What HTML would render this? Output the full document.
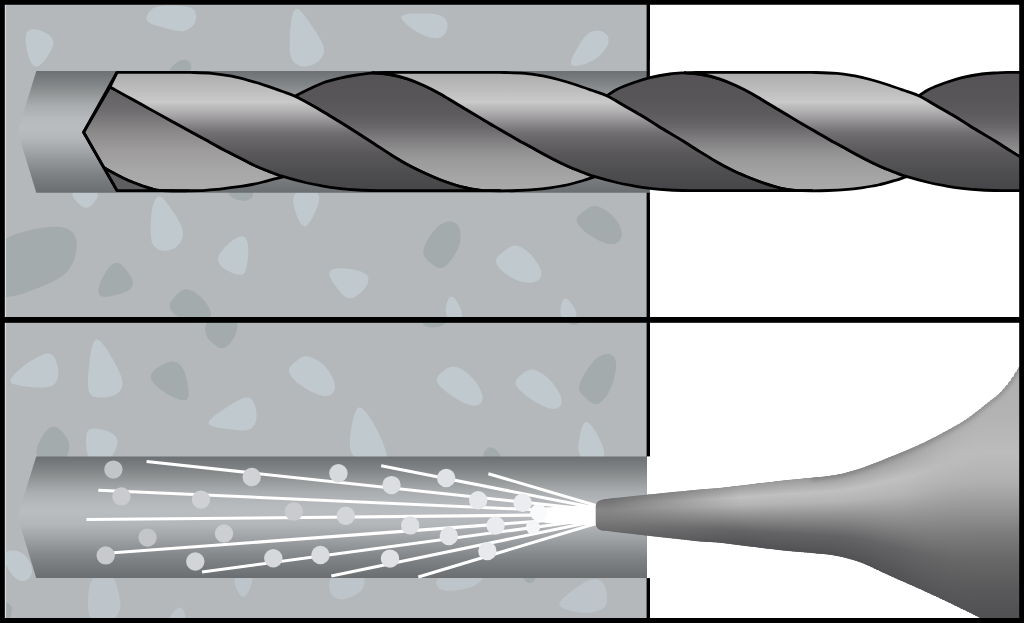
<!DOCTYPE html>
<html><head><meta charset="utf-8"><title>Drill and blow out hole</title>
<style>
html,body{margin:0;padding:0;background:#fff;font-family:"Liberation Sans",sans-serif;}
svg{display:block;}
</style></head><body>
<svg width="1024" height="623" viewBox="0 0 1024 623">
<defs>
<linearGradient id="gHole1" gradientUnits="userSpaceOnUse" x1="0" y1="70.9" x2="0" y2="192.7">
<stop offset="0" stop-color="#6c7072"/><stop offset="0.1" stop-color="#7f8385"/><stop offset="0.195" stop-color="#959899"/><stop offset="0.29" stop-color="#aaadaf"/><stop offset="0.385" stop-color="#b6b9bb"/><stop offset="0.46" stop-color="#babdbf"/><stop offset="0.555" stop-color="#b4b7b9"/><stop offset="0.67" stop-color="#a0a3a5"/><stop offset="0.76" stop-color="#8e9294"/><stop offset="0.86" stop-color="#7c8082"/><stop offset="1" stop-color="#6a6e70"/>
</linearGradient>
<linearGradient id="gHole2" gradientUnits="userSpaceOnUse" x1="0" y1="456.5" x2="0" y2="578.1">
<stop offset="0" stop-color="#6c7072"/><stop offset="0.1" stop-color="#7f8385"/><stop offset="0.195" stop-color="#959899"/><stop offset="0.29" stop-color="#aaadaf"/><stop offset="0.385" stop-color="#b6b9bb"/><stop offset="0.46" stop-color="#babdbf"/><stop offset="0.555" stop-color="#b4b7b9"/><stop offset="0.67" stop-color="#a0a3a5"/><stop offset="0.76" stop-color="#8e9294"/><stop offset="0.86" stop-color="#7c8082"/><stop offset="1" stop-color="#6a6e70"/>
</linearGradient>
<linearGradient id="gL" gradientUnits="userSpaceOnUse" x1="0" y1="72.3" x2="0" y2="190.6">
<stop offset="0" stop-color="#acacac"/><stop offset="0.25" stop-color="#c9c9c9"/><stop offset="0.336" stop-color="#b0aeb0"/><stop offset="0.477" stop-color="#7c7a7c"/><stop offset="0.52" stop-color="#6f6d6f"/><stop offset="0.615" stop-color="#626062"/><stop offset="0.7" stop-color="#585658"/><stop offset="0.84" stop-color="#4e4e50"/><stop offset="1" stop-color="#464648"/>
</linearGradient>
<linearGradient id="gT" gradientUnits="userSpaceOnUse" x1="0" y1="72.3" x2="0" y2="190.6">
<stop offset="0.124" stop-color="#605e60"/><stop offset="0.32" stop-color="#6e6c6e"/><stop offset="0.505" stop-color="#8b8989"/><stop offset="0.657" stop-color="#9d9b9b"/><stop offset="0.826" stop-color="#a7a7a7"/><stop offset="0.95" stop-color="#ababab"/>
</linearGradient>
<linearGradient id="gD" gradientUnits="userSpaceOnUse" x1="0" y1="72.3" x2="0" y2="190.6">
<stop offset="0.02" stop-color="#555355"/><stop offset="0.25" stop-color="#585658"/><stop offset="0.37" stop-color="#5e5c5e"/><stop offset="0.46" stop-color="#696769"/><stop offset="0.56" stop-color="#7d7b7d"/><stop offset="0.657" stop-color="#8f8f8f"/><stop offset="0.75" stop-color="#9b9b9b"/><stop offset="0.885" stop-color="#a5a5a5"/><stop offset="0.98" stop-color="#a9a9a9"/>
</linearGradient>
<linearGradient id="nzTip" x1="0" y1="0" x2="0" y2="1">
<stop offset="0" stop-color="#6e6e70"/><stop offset="0.35" stop-color="#868686"/><stop offset="0.6" stop-color="#7e7e7e"/><stop offset="1" stop-color="#68686a"/>
</linearGradient>
<linearGradient id="nzBody" x1="0" y1="0" x2="0" y2="1">
<stop offset="0" stop-color="#999999"/><stop offset="0.2" stop-color="#c0c0c0"/><stop offset="0.33" stop-color="#b4b4b4"/><stop offset="0.5" stop-color="#929292"/><stop offset="0.75" stop-color="#646466"/><stop offset="1" stop-color="#515153"/>
</linearGradient>
<linearGradient id="nzFlare" gradientUnits="userSpaceOnUse" x1="0" y1="380" x2="0" y2="640">
<stop offset="0" stop-color="#b0b0b0"/><stop offset="0.142" stop-color="#b3b3b3"/><stop offset="0.281" stop-color="#bcbcbc"/><stop offset="0.388" stop-color="#b1b1b1"/><stop offset="0.485" stop-color="#999999"/><stop offset="0.592" stop-color="#7c7c7c"/><stop offset="0.688" stop-color="#686868"/><stop offset="0.796" stop-color="#5a5a5c"/><stop offset="0.892" stop-color="#525254"/><stop offset="1" stop-color="#4e4e50"/>
</linearGradient>
<filter id="blurE" x="-10%" y="-10%" width="120%" height="120%"><feGaussianBlur stdDeviation="2.2"/></filter>
<filter id="blur10" x="-20%" y="-50%" width="140%" height="200%"><feGaussianBlur stdDeviation="9"/></filter>
<filter id="blur8" x="-20%" y="-50%" width="140%" height="200%"><feGaussianBlur stdDeviation="7"/></filter>
<clipPath id="concTop"><rect x="0" y="0" width="648" height="320"/></clipPath>
<clipPath id="concBot"><rect x="0" y="320" width="648" height="303"/></clipPath>
</defs>
<rect x="0" y="0" width="1024" height="623" fill="#fff"/>
<rect x="0" y="0" width="648" height="623" fill="#b5b8bb"/>
<g clip-path="url(#concTop)">
<path d="M28.8,30.4 C31.6,28.5 37.0,29.2 42.1,31.2 C47.3,33.1 52.3,36.3 53.2,41.0 C54.1,45.6 50.9,51.7 47.3,56.8 C43.7,62.0 39.8,66.3 36.6,66.5 C33.4,66.6 30.9,62.7 29.1,57.9 C27.3,53.1 26.3,47.4 25.9,42.2 C25.5,37.0 25.9,32.4 28.8,30.4Z" fill="#c0c9ce"/>
<path d="M147.3,20.9 C145.5,18.4 146.9,15.0 148.9,12.3 C150.9,9.6 153.4,7.6 157.8,6.5 C162.3,5.4 168.7,5.3 175.1,5.5 C181.5,5.7 188.0,6.2 191.5,8.0 C195.1,9.8 195.8,12.8 196.0,15.8 C196.2,18.7 195.8,21.6 194.2,24.1 C192.6,26.6 189.7,28.7 186.9,29.9 C184.0,31.2 181.2,31.6 176.5,30.8 C171.9,30.1 165.5,28.3 159.8,26.6 C154.1,25.0 149.1,23.3 147.3,20.9Z" fill="#c0c9ce"/>
<path d="M297.1,9.1 C299.8,9.6 303.5,14.1 307.5,19.5 C311.4,25.0 315.7,31.4 318.9,36.7 C322.1,42.1 324.3,46.4 324.1,50.6 C323.9,54.9 321.4,59.2 317.3,62.2 C313.2,65.1 307.5,66.8 302.9,66.4 C298.2,66.0 294.7,63.7 292.5,60.2 C290.4,56.7 289.7,52.1 289.7,44.4 C289.7,36.7 290.4,26.0 291.6,19.0 C292.8,11.9 294.5,8.6 297.1,9.1Z" fill="#c0c9ce"/>
<path d="M401.5,16.3 C402.9,14.0 410.1,13.6 417.4,13.5 C424.7,13.4 432.1,13.4 437.1,14.5 C442.1,15.6 444.7,17.6 446.1,20.1 C447.6,22.6 448.0,25.4 447.2,28.7 C446.4,31.9 444.4,35.6 440.7,37.2 C437.1,38.8 431.7,38.4 426.1,36.3 C420.5,34.3 414.6,30.8 409.5,26.8 C404.4,22.9 400.0,18.6 401.5,16.3Z" fill="#c0c9ce"/>
<path d="M570.8,63.6 C570.4,60.5 573.7,54.3 577.1,48.4 C580.6,42.6 584.0,37.1 587.6,34.1 C591.2,31.1 594.8,30.4 598.2,30.7 C601.7,30.9 604.9,32.1 606.7,34.4 C608.6,36.6 609.0,40.1 608.1,43.4 C607.2,46.8 605.0,50.1 602.3,53.0 C599.6,55.9 596.5,58.5 592.6,60.6 C588.7,62.8 583.9,64.5 579.6,65.4 C575.2,66.4 571.1,66.6 570.8,63.6Z" fill="#c0c9ce"/>
<path d="M74.2,191.7 C78.2,189.4 89.6,189.4 94.6,191.2 C99.6,193.0 98.1,196.5 95.8,200.1 C93.5,203.7 90.3,207.2 87.1,207.8 C83.9,208.3 80.7,205.8 77.3,202.2 C73.9,198.7 70.3,194.0 74.2,191.7Z" fill="#c0c9ce"/>
<path d="M157.8,196.8 C160.4,195.4 163.2,198.4 166.8,202.9 C170.3,207.4 174.6,213.4 177.8,218.9 C180.9,224.3 183.0,229.0 183.0,233.6 C183.0,238.3 180.9,242.8 177.5,246.0 C174.1,249.1 169.2,250.9 164.9,250.9 C160.6,250.9 156.9,249.1 154.6,246.8 C152.3,244.5 151.4,241.8 151.0,235.5 C150.6,229.2 150.6,219.4 151.7,211.7 C152.9,203.9 155.2,198.2 157.8,196.8Z" fill="#c0c9ce"/>
<path d="M240.6,236.3 C244.0,235.6 245.9,237.7 247.0,240.8 C248.1,243.8 248.5,247.7 248.3,252.5 C248.1,257.4 247.4,263.1 246.6,267.2 C245.7,271.3 244.8,273.9 242.3,274.6 C239.8,275.3 235.7,274.2 232.0,272.8 C228.3,271.3 224.9,269.6 222.1,267.0 C219.4,264.5 217.3,261.0 218.3,257.0 C219.3,253.1 223.4,248.6 227.8,244.6 C232.3,240.6 237.2,237.0 240.6,236.3Z" fill="#c0c9ce"/>
<path d="M295.9,192.9 C300.5,188.7 312.0,188.7 316.6,192.2 C321.3,195.8 319.0,202.9 316.1,209.8 C313.3,216.7 309.8,223.3 306.9,225.4 C304.1,227.5 301.8,225.2 300.1,222.6 C298.4,220.1 297.1,217.2 295.4,211.5 C293.6,205.8 291.3,197.2 295.9,192.9Z" fill="#c0c9ce"/>
<path d="M329.8,271.7 C331.4,268.7 338.0,267.8 345.5,268.4 C352.9,269.0 361.2,271.0 365.2,273.5 C369.1,276.0 368.6,279.0 368.0,281.5 C367.5,284.1 366.7,286.2 364.1,289.3 C361.4,292.4 356.8,296.5 352.8,297.8 C348.9,299.0 345.7,297.4 342.8,294.9 C340.0,292.3 337.5,288.7 334.5,284.3 C331.6,280.0 328.1,274.7 329.8,271.7Z" fill="#c0c9ce"/>
<path d="M496.1,261.9 C495.4,258.1 498.6,255.7 502.1,252.8 C505.5,250.0 509.2,246.6 513.0,245.7 C516.7,244.8 520.5,246.4 523.9,248.7 C527.4,251.0 530.5,254.0 533.5,257.8 C536.5,261.5 539.4,266.0 540.7,269.8 C542.0,273.7 541.7,276.9 539.1,279.2 C536.5,281.6 531.6,283.1 525.7,282.5 C519.8,281.8 513.0,278.9 507.2,274.9 C501.4,270.8 496.8,265.7 496.1,261.9Z" fill="#c0c9ce"/>
<path d="M448.7,318.1 C445.3,315.5 445.4,310.1 446.3,305.6 C447.1,301.1 448.7,297.3 450.9,296.8 C453.0,296.3 455.7,298.9 458.3,303.4 C460.8,308.0 463.3,314.4 461.1,317.6 C459.0,320.8 452.1,320.8 448.7,318.1Z" fill="#c0c9ce"/>
<path d="M563.1,318.1 C559.8,315.4 560.2,310.1 561.1,305.8 C562.0,301.6 563.4,298.4 565.5,298.4 C567.7,298.4 570.5,301.6 573.1,305.8 C575.7,310.1 577.9,315.4 575.6,318.1 C573.3,320.8 566.4,320.8 563.1,318.1Z" fill="#c0c9ce"/>
<path d="M172.0,72.9 C168.6,71.3 170.5,68.1 173.2,65.4 C175.9,62.7 179.3,60.6 182.3,59.9 C185.3,59.2 188.0,59.9 189.7,62.6 C191.4,65.2 192.3,69.9 188.3,72.2 C184.3,74.5 175.5,74.5 172.0,72.9Z" fill="#a3abad"/>
<path d="M5.6,239.0 C11.0,235.6 20.3,232.4 29.9,230.1 C39.5,227.8 49.5,226.3 57.0,226.7 C64.5,227.1 69.5,229.2 72.7,232.6 C75.8,236.0 77.2,240.6 76.7,247.3 C76.2,254.0 73.9,262.7 69.3,269.1 C64.7,275.5 57.8,279.6 46.6,284.6 C35.4,289.5 19.9,295.2 11.0,296.6 C2.1,298.0 -0.2,295.2 -1.4,286.6 C-2.6,278.1 -2.6,263.8 -1.8,254.9 C-1.1,246.0 0.3,242.4 5.6,239.0Z" fill="#a3abad"/>
<path d="M115.8,262.8 C119.2,262.3 122.4,265.2 125.6,268.9 C128.7,272.6 131.8,277.2 132.7,280.9 C133.6,284.7 132.3,287.6 129.5,289.8 C126.7,292.0 122.4,293.4 117.1,294.8 C111.7,296.2 105.3,297.6 101.8,296.5 C98.3,295.4 97.7,291.9 98.7,287.3 C99.8,282.7 102.6,277.0 105.7,272.2 C108.9,267.3 112.4,263.3 115.8,262.8Z" fill="#a3abad"/>
<path d="M169.7,307.0 C169.0,302.9 172.0,299.8 174.9,296.7 C177.8,293.7 180.5,290.7 183.4,289.7 C186.2,288.6 189.2,289.4 192.0,290.7 C194.9,292.0 197.7,293.9 200.4,296.4 C203.1,298.9 205.6,302.0 208.2,306.2 C210.7,310.5 213.2,315.8 208.4,318.5 C203.6,321.2 191.4,321.2 183.2,318.7 C174.9,316.2 170.5,311.1 169.7,307.0Z" fill="#a3abad"/>
<path d="M230.8,191.0 C234.8,189.6 245.2,189.6 249.9,191.0 C254.6,192.5 253.7,195.3 251.8,197.4 C249.9,199.4 247.0,200.7 243.5,200.7 C239.9,200.7 235.6,199.4 232.3,197.4 C229.0,195.3 226.8,192.5 230.8,191.0Z" fill="#a3abad"/>
<path d="M449.0,221.5 C451.9,221.3 454.4,222.0 456.4,223.8 C458.4,225.6 459.9,228.4 460.4,232.0 C461.0,235.6 460.5,239.8 459.7,243.5 C458.8,247.2 457.5,250.3 454.5,255.0 C451.6,259.8 447.0,266.1 442.9,267.7 C438.7,269.4 435.0,266.4 431.5,263.5 C428.0,260.6 424.8,257.9 423.7,254.7 C422.7,251.5 423.7,247.8 425.5,244.1 C427.2,240.3 429.6,236.5 432.1,233.1 C434.6,229.7 437.2,226.8 440.1,224.7 C443.0,222.7 446.2,221.7 449.0,221.5Z" fill="#a3abad"/>
<path d="M576.7,221.1 C576.1,217.4 579.4,214.8 582.9,212.0 C586.4,209.2 589.9,206.4 593.9,206.0 C597.8,205.7 602.1,207.8 606.1,210.6 C610.1,213.3 613.8,216.7 616.6,220.5 C619.3,224.2 621.0,228.3 621.6,231.8 C622.2,235.3 621.8,238.1 619.8,240.4 C617.8,242.6 614.2,244.3 610.3,244.1 C606.3,243.9 602.1,241.9 598.0,239.9 C594.0,237.9 590.3,235.9 586.1,232.6 C581.9,229.3 577.3,224.7 576.7,221.1Z" fill="#a3abad"/>
</g>
<g clip-path="url(#concBot)">
<path d="M11.8,377.5 C14.3,373.8 20.8,368.0 27.7,363.1 C34.6,358.2 41.8,354.2 46.7,353.7 C51.5,353.1 53.9,356.1 55.6,359.8 C57.3,363.6 58.4,368.1 58.4,372.7 C58.3,377.3 57.2,381.9 54.0,384.4 C50.8,387.0 45.5,387.4 40.3,387.4 C35.1,387.4 30.1,387.0 25.4,386.4 C20.8,385.9 16.6,385.3 13.7,384.1 C10.9,383.0 9.3,381.3 11.8,377.5Z" fill="#c0c9ce"/>
<path d="M95.3,340.0 C97.6,338.4 100.9,341.2 104.4,346.0 C108.0,350.8 111.9,357.6 115.2,363.8 C118.5,370.0 121.2,375.7 122.1,380.1 C123.0,384.6 122.1,387.9 120.3,390.5 C118.6,393.1 116.0,395.0 111.3,396.2 C106.6,397.5 99.7,398.1 95.5,397.1 C91.2,396.1 89.6,393.6 88.7,390.5 C87.9,387.3 87.7,383.4 88.1,377.2 C88.4,371.0 89.3,362.3 90.4,355.0 C91.6,347.6 93.0,341.6 95.3,340.0Z" fill="#c0c9ce"/>
<path d="M210.3,419.7 C213.2,416.3 220.3,411.3 227.5,406.7 C234.7,402.1 241.8,397.9 246.5,397.5 C251.1,397.2 253.2,400.6 254.7,404.7 C256.1,408.7 256.9,413.3 256.4,417.8 C256.0,422.3 254.3,426.6 250.6,428.7 C247.0,430.8 241.6,430.5 236.4,430.1 C231.2,429.6 226.4,429.0 222.1,428.3 C217.8,427.7 214.1,427.2 211.5,426.0 C208.9,424.8 207.5,423.1 210.3,419.7Z" fill="#c0c9ce"/>
<path d="M289.1,371.7 C288.3,367.8 291.6,364.9 294.7,362.2 C297.8,359.6 300.8,357.1 304.0,356.4 C307.3,355.6 310.6,356.7 314.3,358.5 C318.0,360.3 321.9,362.8 325.5,366.9 C329.2,371.0 332.6,376.7 334.0,381.3 C335.4,386.0 334.9,389.5 333.4,392.0 C331.9,394.5 329.4,396.0 326.3,396.1 C323.3,396.3 319.7,395.2 315.1,393.3 C310.5,391.3 304.8,388.5 299.6,384.5 C294.4,380.6 289.8,375.6 289.1,371.7Z" fill="#c0c9ce"/>
<path d="M358.4,407.7 C360.4,406.6 362.6,408.5 364.9,411.1 C367.2,413.7 369.6,416.9 372.2,421.3 C374.9,425.8 377.9,431.5 380.5,437.3 C383.1,443.1 385.2,448.9 386.3,453.0 C387.3,457.1 387.3,459.5 381.0,460.6 C374.7,461.8 362.1,461.8 355.8,457.8 C349.5,453.7 349.5,445.6 350.1,438.1 C350.7,430.7 351.9,423.8 353.3,418.3 C354.8,412.8 356.4,408.8 358.4,407.7Z" fill="#c0c9ce"/>
<path d="M436.9,381.2 C435.9,377.2 439.3,374.1 442.8,371.4 C446.2,368.7 449.7,366.5 453.5,366.5 C457.2,366.5 461.2,368.7 464.9,371.4 C468.7,374.1 472.1,377.2 475.2,381.2 C478.2,385.1 480.8,389.8 482.0,393.6 C483.1,397.4 482.7,400.2 481.4,402.3 C480.1,404.4 477.8,405.7 474.6,405.7 C471.4,405.7 467.2,404.4 462.8,402.3 C458.4,400.2 453.8,397.4 448.7,393.6 C443.6,389.8 438.0,385.1 436.9,381.2Z" fill="#c0c9ce"/>
<path d="M515.9,384.7 C514.5,380.8 517.6,377.9 520.7,375.2 C523.9,372.5 527.1,370.0 530.7,369.6 C534.3,369.2 538.2,371.1 541.9,373.5 C545.6,375.9 549.2,378.9 552.6,383.0 C556.0,387.1 559.2,392.3 560.7,396.3 C562.1,400.3 561.7,403.2 560.7,405.2 C559.6,407.2 558.0,408.3 555.5,408.7 C553.0,409.0 549.6,408.6 545.1,406.8 C540.6,405.0 534.9,401.8 529.1,397.7 C523.3,393.6 517.4,388.6 515.9,384.7Z" fill="#c0c9ce"/>
<path d="M582.5,457.9 C577.6,454.4 578.2,447.5 578.9,441.8 C579.7,436.1 580.6,431.6 581.7,428.0 C582.9,424.5 584.3,421.8 586.5,422.0 C588.6,422.2 591.5,425.3 594.1,429.3 C596.8,433.4 599.3,438.3 601.6,443.8 C603.9,449.3 606.0,455.3 601.9,458.4 C597.7,461.4 587.4,461.4 582.5,457.9Z" fill="#c0c9ce"/>
<path d="M87.8,431.0 C89.8,428.2 93.7,428.1 97.8,428.7 C101.8,429.3 105.9,430.5 109.0,431.7 C112.0,433.0 113.9,434.2 115.3,436.0 C116.8,437.7 117.7,439.8 117.5,442.5 C117.3,445.2 116.1,448.4 114.6,451.6 C113.2,454.8 111.6,458.0 107.1,459.6 C102.6,461.2 95.1,461.2 91.1,458.5 C87.0,455.9 86.5,450.5 86.2,445.0 C85.9,439.5 85.9,433.9 87.8,431.0Z" fill="#c0c9ce"/>
<path d="M6.3,552.1 C7.9,550.5 10.8,550.3 13.7,550.5 C16.6,550.7 19.4,551.4 21.9,553.1 C24.4,554.7 26.6,557.2 28.4,560.0 C30.2,562.9 31.8,566.2 32.0,569.4 C32.3,572.6 31.2,575.8 29.4,577.9 C27.5,580.0 24.9,581.1 22.2,580.9 C19.4,580.7 16.6,579.3 14.2,577.1 C11.9,575.0 10.0,572.1 8.4,569.1 C6.8,566.1 5.4,562.9 4.9,559.8 C4.4,556.7 4.7,553.7 6.3,552.1Z" fill="#c0c9ce"/>
<path d="M94.2,577.2 C98.6,573.1 106.0,573.1 110.4,575.8 C114.9,578.5 116.4,583.8 117.8,589.7 C119.3,595.5 120.6,601.7 120.4,606.2 C120.2,610.7 118.5,613.3 116.5,615.9 C114.5,618.4 112.3,620.9 108.0,622.2 C103.7,623.4 97.4,623.4 93.7,621.3 C90.1,619.1 89.0,614.9 88.4,610.6 C87.8,606.3 87.7,602.0 88.2,595.8 C88.7,589.5 89.9,581.3 94.2,577.2Z" fill="#bdc5ca"/>
<path d="M171.3,620.7 C168.8,618.9 170.7,615.4 173.0,612.5 C175.3,609.7 178.0,607.5 179.9,607.5 C181.9,607.5 183.1,609.7 184.3,612.5 C185.5,615.4 186.5,618.9 183.6,620.7 C180.7,622.5 173.8,622.5 171.3,620.7Z" fill="#bdc5ca"/>
<path d="M236.1,576.9 C239.3,574.3 247.3,574.3 250.5,576.6 C253.7,578.9 252.1,583.5 250.1,587.9 C248.1,592.3 245.7,596.4 243.4,596.7 C241.0,597.1 238.8,593.7 236.8,589.3 C234.8,585.0 233.0,579.6 236.1,576.9Z" fill="#bdc5ca"/>
<path d="M334.6,576.0 C340.6,573.1 352.7,573.1 358.8,574.8 C364.9,576.6 365.1,580.2 364.4,583.6 C363.8,587.0 362.4,590.2 358.6,593.0 C354.8,595.9 348.6,598.4 343.9,599.1 C339.3,599.8 336.2,598.7 334.0,597.1 C331.7,595.4 330.3,593.1 329.5,589.0 C328.8,584.9 328.6,579.0 334.6,576.0Z" fill="#bdc5ca"/>
<path d="M444.0,575.8 C452.9,573.3 471.4,573.3 478.5,575.3 C485.6,577.3 481.5,581.2 476.9,583.9 C472.3,586.7 467.3,588.3 462.0,589.4 C456.6,590.4 450.9,591.0 446.6,590.7 C442.2,590.4 439.3,589.4 437.5,586.3 C435.7,583.3 435.1,578.3 444.0,575.8Z" fill="#bdc5ca"/>
<path d="M559.5,603.4 C560.0,601.0 563.4,598.0 566.8,595.1 C570.2,592.2 573.8,589.5 577.4,587.0 C580.9,584.5 584.5,582.2 588.0,580.8 C591.4,579.4 594.8,578.8 597.4,579.3 C600.1,579.9 602.1,581.5 603.6,583.8 C605.0,586.1 605.9,589.1 606.4,592.3 C607.0,595.5 607.2,599.0 606.7,601.9 C606.3,604.9 605.2,607.4 601.4,609.4 C597.5,611.4 590.9,612.9 584.1,612.8 C577.4,612.7 570.4,611.0 565.8,609.3 C561.2,607.5 559.0,605.8 559.5,603.4Z" fill="#bdc5ca"/>
<path d="M150.8,375.5 C151.5,372.0 155.8,368.4 160.6,365.7 C165.4,363.0 170.6,361.2 174.5,361.7 C178.4,362.3 181.1,365.1 183.1,369.0 C185.1,372.9 186.5,377.7 187.4,382.3 C188.3,386.9 188.7,391.4 188.6,394.6 C188.4,397.7 187.8,399.6 185.9,400.1 C183.9,400.6 180.6,399.9 177.3,398.7 C173.9,397.5 170.6,396.0 167.0,393.9 C163.4,391.7 159.7,389.0 156.3,385.8 C153.0,382.7 150.1,379.1 150.8,375.5Z" fill="#a3abad"/>
<path d="M209.7,320.3 C215.5,316.9 227.6,316.9 233.2,319.4 C238.8,321.9 237.9,326.9 236.7,330.9 C235.6,334.9 234.1,338.0 231.7,341.2 C229.3,344.5 225.9,347.9 222.6,348.3 C219.4,348.8 216.4,346.2 213.6,343.9 C210.7,341.6 207.9,339.6 206.3,335.1 C204.6,330.6 204.0,323.8 209.7,320.3Z" fill="#a3abad"/>
<path d="M38.9,457.5 C34.5,454.0 36.7,446.8 39.9,440.5 C43.1,434.1 47.2,428.5 50.9,426.9 C54.7,425.3 58.0,427.7 61.2,430.8 C64.3,434.0 67.3,437.9 68.6,441.7 C69.8,445.4 69.3,449.0 68.5,452.2 C67.6,455.4 66.4,458.3 60.3,459.7 C54.2,461.1 43.2,461.1 38.9,457.5Z" fill="#a3abad"/>
<path d="M579.0,388.3 C578.8,384.4 581.4,379.1 584.3,374.2 C587.1,369.3 590.4,364.8 593.4,361.6 C596.4,358.4 599.3,356.4 601.9,355.3 C604.4,354.1 606.8,353.8 608.9,354.1 C611.0,354.5 613.0,355.6 614.3,357.6 C615.6,359.6 616.3,362.6 616.1,366.5 C616.0,370.5 614.9,375.3 613.6,379.9 C612.3,384.5 610.7,388.8 608.9,392.2 C607.1,395.6 605.2,398.0 602.9,400.3 C600.6,402.6 597.9,404.8 594.9,404.2 C591.8,403.7 588.4,400.5 585.3,397.6 C582.1,394.8 579.2,392.2 579.0,388.3Z" fill="#a3abad"/>
<path d="M485.2,458.9 C481.9,457.2 483.2,454.0 484.6,451.6 C486.1,449.2 487.6,447.5 489.7,447.3 C491.8,447.1 494.6,448.4 497.2,450.9 C499.8,453.3 502.3,456.9 499.4,458.7 C496.6,460.5 488.6,460.5 485.2,458.9Z" fill="#a3abad"/>
<path d="M424.9,319.1 C429.4,317.6 439.7,317.6 443.8,319.1 C447.9,320.5 445.8,323.3 442.8,325.1 C439.7,326.9 435.8,327.6 432.4,327.6 C429.0,327.6 426.2,326.9 424.0,325.1 C421.9,323.3 420.5,320.5 424.9,319.1Z" fill="#a3abad"/>
<path d="M568.1,319.0 C570.1,317.8 575.8,317.8 578.1,319.0 C580.5,320.3 579.4,322.7 577.4,324.0 C575.5,325.2 572.6,325.2 570.3,324.0 C568.0,322.7 566.2,320.3 568.1,319.0Z" fill="#a3abad"/>
<path d="M2.7,603.7 C3.8,600.4 5.9,601.7 7.8,603.1 C9.6,604.5 11.3,606.1 11.8,608.0 C12.3,609.9 11.8,612.0 11.2,614.5 C10.5,617.0 9.8,619.9 8.2,621.3 C6.6,622.7 4.1,622.7 2.9,618.8 C1.6,614.9 1.6,607.0 2.7,603.7Z" fill="#a3abad"/>
<path d="M524.1,574.9 C526.5,573.7 532.5,573.7 534.8,574.9 C537.2,576.2 535.7,578.7 534.3,580.4 C532.9,582.1 531.5,582.9 529.8,582.9 C528.2,582.9 526.5,582.1 524.9,580.4 C523.3,578.7 521.8,576.2 524.1,574.9Z" fill="#a3abad"/>
</g>
<rect x="646.6" y="0" width="3.4" height="623" fill="#000"/>
<path d="M36.3,70.9 L650,70.9 L650,192.7 L36.3,192.7 L17.6,131.5 Z" fill="url(#gHole1)"/>
<path d="M36.2,456.5 L650,456.5 L650,578.1 L36.2,578.1 L17.5,516.5 Z" fill="url(#gHole2)"/>
<rect x="646.6" y="71" width="3.4" height="7" fill="#000"/>
<rect x="649.9" y="60" width="400" height="140" fill="#fff"/>
<rect x="647" y="456.5" width="400" height="121.6" fill="#fff"/>
<path d="M110.0,87.0 L83.6,132.3 L103.8,167.5 C105.1,168.3 108.8,170.6 112.0,172.3 C115.2,174.1 119.3,176.2 123.0,178.0 C126.7,179.8 130.4,181.4 134.0,182.8 C137.6,184.2 141.5,185.7 144.5,186.7 C147.5,187.7 149.5,188.3 152.0,188.9 C154.5,189.5 155.8,190.0 159.6,190.3 C163.4,190.6 170.2,190.7 175.0,190.8 C179.8,190.9 183.5,190.9 188.5,190.8 C193.5,190.7 200.3,190.6 205.2,190.3 C210.1,190.1 213.8,189.7 218.0,189.3 C222.2,188.9 226.7,188.2 230.5,187.7 C234.3,187.2 237.4,186.8 241.0,186.3 C244.6,185.8 248.3,185.2 252.0,184.5 C255.7,183.8 259.4,182.9 263.0,182.0 C266.6,181.1 270.1,180.0 273.5,179.1 C276.9,178.2 281.8,177.1 283.5,176.7 C281.6,176.0 276.5,174.3 271.8,172.5 C267.1,170.7 260.5,168.2 255.2,165.8 C249.9,163.4 245.3,160.6 240.0,157.9 C234.7,155.2 228.9,152.4 223.3,149.5 C217.8,146.6 212.2,143.4 206.7,140.3 C201.1,137.2 196.1,134.6 190.0,131.2 C183.9,127.8 176.7,123.8 170.0,120.2 C163.3,116.5 156.7,112.8 150.0,109.1 C143.3,105.4 136.7,101.7 130.0,98.0 C123.3,94.4 113.3,88.8 110.0,87.0Z" fill="url(#gT)" stroke="#000" stroke-width="2.8" stroke-linejoin="round"/>
<path d="M103.8,167.5 L117.0,190.6 L188.5,190.6 C186.2,190.8 179.8,190.9 175.0,190.8 C170.2,190.7 163.4,190.6 159.6,190.3 C155.8,190.0 154.5,189.5 152.0,188.9 C149.5,188.3 147.5,187.7 144.5,186.7 C141.5,185.7 137.6,184.2 134.0,182.8 C130.4,181.4 126.7,179.8 123.0,178.0 C119.3,176.2 115.2,174.1 112.0,172.3 C108.8,170.6 105.1,168.3 103.8,167.5Z" fill="#5e5e60" stroke="#000" stroke-width="2.8" stroke-linejoin="round"/>
<path d="M295.0,96.2 C296.9,95.2 302.0,92.5 306.7,90.3 C311.4,88.1 317.8,84.8 323.3,82.8 C328.9,80.8 334.4,79.5 340.0,78.2 C345.6,76.9 351.2,75.9 356.7,75.0 C362.2,74.1 370.3,73.2 373.0,72.8 C375.7,72.4 370.2,72.5 373.0,72.8 C375.8,73.1 384.4,73.5 390.0,74.5 C395.6,75.5 401.1,76.9 406.7,78.7 C412.2,80.5 417.8,82.8 423.3,85.3 C428.9,87.8 434.4,90.6 440.0,93.7 C445.6,96.8 451.1,100.4 456.7,103.7 C462.2,107.0 467.8,110.4 473.3,113.7 C478.9,117.0 485.6,121.1 490.0,123.7 C494.4,126.3 495.6,126.9 500.0,129.5 C504.4,132.1 511.2,136.1 516.7,139.2 C522.2,142.3 527.8,145.2 533.3,148.3 C538.8,151.4 544.4,154.6 550.0,157.5 C555.6,160.4 561.2,163.3 566.7,165.8 C572.2,168.3 578.6,170.7 583.3,172.5 C588.0,174.3 593.0,176.0 595.0,176.7 C593.0,177.3 588.0,179.1 583.3,180.5 C578.6,181.9 572.2,183.8 566.7,185.0 C561.2,186.2 555.6,187.0 550.0,187.8 C544.4,188.6 538.8,189.2 533.3,189.7 C527.8,190.1 522.2,190.3 516.7,190.5 C511.2,190.7 505.8,190.8 500.0,190.8 C494.2,190.8 486.7,190.6 481.7,190.6 C476.7,190.6 471.9,190.6 470.0,190.6 L500.0,190.6 C496.9,190.6 487.2,190.7 481.7,190.3 C476.1,189.9 470.9,188.8 466.7,188.0 C462.5,187.2 461.1,186.9 456.7,185.5 C452.2,184.1 445.6,181.9 440.0,179.7 C434.4,177.5 428.9,175.1 423.3,172.5 C417.8,169.9 412.2,167.2 406.7,164.2 C401.1,161.1 395.6,157.7 390.0,154.2 C384.4,150.7 380.2,147.8 373.3,143.3 C366.4,138.8 355.2,131.6 348.3,127.2 C341.4,122.8 337.2,120.4 331.7,117.0 C326.1,113.6 321.1,110.5 315.0,107.0 C308.9,103.5 298.3,98.0 295.0,96.2Z" fill="url(#gD)" stroke="#000" stroke-width="2.8" stroke-linejoin="round"/>
<path d="M606.7,95.8 C608.4,94.8 612.3,91.7 616.7,89.5 C621.1,87.3 627.8,84.8 633.3,82.8 C638.8,80.8 643.9,79.1 650.0,77.6 C656.1,76.1 663.9,74.8 669.7,74.0 C675.5,73.2 682.5,73.0 685.0,72.8 C687.5,72.6 682.2,72.5 685.0,72.8 C687.8,73.1 696.4,73.5 702.0,74.5 C707.6,75.5 713.2,76.9 718.7,78.7 C724.2,80.5 729.8,82.8 735.3,85.3 C740.8,87.8 746.4,90.6 752.0,93.7 C757.6,96.8 763.2,100.4 768.7,103.7 C774.2,107.0 779.8,110.4 785.3,113.7 C790.8,117.0 797.5,121.1 802.0,123.7 C806.5,126.3 807.5,126.9 812.0,129.5 C816.5,132.1 823.2,136.1 828.7,139.2 C834.2,142.3 839.8,145.2 845.3,148.3 C850.8,151.4 856.4,154.6 862.0,157.5 C867.6,160.4 873.2,163.3 878.7,165.8 C884.2,168.3 890.6,170.7 895.3,172.5 C900.0,174.3 905.0,176.0 907.0,176.7 C904.5,177.3 899.5,179.1 894.8,180.5 C890.1,181.9 883.8,183.8 878.2,185.0 C872.7,186.2 867.1,187.0 861.5,187.8 C855.9,188.6 850.3,189.2 844.8,189.7 C839.2,190.1 833.8,190.3 828.2,190.5 C822.7,190.7 817.3,190.8 811.5,190.8 C805.7,190.8 798.2,190.6 793.2,190.6 C788.2,190.6 783.5,190.6 781.5,190.6 L812.0,190.6 C809.2,190.6 800.3,190.7 795.0,190.3 C789.7,189.9 784.7,189.0 780.0,188.0 C775.3,187.0 771.7,185.9 766.7,184.2 C761.7,182.5 755.6,180.2 750.0,178.0 C744.4,175.8 738.8,173.5 733.3,170.8 C727.8,168.1 722.2,165.2 716.7,162.0 C711.2,158.8 705.6,155.3 700.0,151.9 C694.4,148.5 690.2,145.6 683.3,141.3 C676.3,137.0 665.2,130.5 658.3,126.2 C651.4,122.0 647.2,119.1 641.7,115.8 C636.2,112.5 630.8,109.5 625.0,106.2 C619.2,102.9 609.8,97.5 606.7,95.8Z" fill="url(#gD)" stroke="#000" stroke-width="2.8" stroke-linejoin="round"/>
<path d="M918.7,95.8 C920.4,94.8 924.3,91.7 928.7,89.5 C933.1,87.3 939.8,84.8 945.3,82.8 C950.8,80.8 955.9,79.1 962.0,77.6 C968.1,76.1 975.9,74.8 981.7,74.0 C987.5,73.2 992.3,73.1 997.0,72.8 C1001.7,72.5 1004.5,72.5 1010.0,72.4 C1015.5,72.3 1026.7,72.3 1030.0,72.3 L1030.0,170.0 C1025.9,160.3 1017.6,155.3 1012.0,151.9 C1006.4,148.5 1002.2,145.6 995.3,141.3 C988.3,137.0 977.2,130.5 970.3,126.2 C963.4,122.0 959.2,119.1 953.7,115.8 C948.2,112.5 942.8,109.5 937.0,106.2 C931.2,102.9 921.8,97.5 918.7,95.8Z" fill="url(#gD)" stroke="#000" stroke-width="2.8" stroke-linejoin="round"/>
<path d="M117.0,72.3 L170.0,72.3 C173.3,72.3 183.1,72.2 190.0,72.4 C196.9,72.6 204.8,72.7 211.7,73.3 C218.6,73.9 225.6,75.0 231.7,76.2 C237.8,77.4 242.8,78.8 248.3,80.3 C253.9,81.8 259.4,83.5 265.0,85.3 C270.6,87.1 276.7,89.4 281.7,91.2 C286.7,93.0 289.4,93.6 295.0,96.2 C300.6,98.8 308.9,103.5 315.0,107.0 C321.1,110.5 326.1,113.6 331.7,117.0 C337.2,120.4 341.4,122.8 348.3,127.2 C355.2,131.6 366.4,138.8 373.3,143.3 C380.2,147.8 384.4,150.7 390.0,154.2 C395.6,157.7 401.1,161.1 406.7,164.2 C412.2,167.2 417.8,169.9 423.3,172.5 C428.9,175.1 434.4,177.5 440.0,179.7 C445.6,181.9 452.2,184.1 456.7,185.5 C461.1,186.9 462.5,187.2 466.7,188.0 C470.9,188.8 476.1,189.9 481.7,190.3 C487.2,190.7 496.9,190.6 500.0,190.6 L393.5,190.6 C391.0,190.6 384.4,190.7 378.5,190.6 C372.6,190.5 364.9,190.4 358.2,190.0 C351.5,189.6 344.6,189.0 338.5,188.3 C332.4,187.6 327.3,186.8 321.8,185.8 C316.2,184.8 311.6,184.0 305.2,182.5 C298.8,181.0 289.1,178.4 283.5,176.7 C277.9,175.0 276.5,174.3 271.8,172.5 C267.1,170.7 260.5,168.2 255.2,165.8 C249.9,163.4 245.3,160.6 240.0,157.9 C234.7,155.2 228.9,152.4 223.3,149.5 C217.8,146.6 212.2,143.4 206.7,140.3 C201.1,137.2 196.1,134.6 190.0,131.2 C183.9,127.8 176.7,123.8 170.0,120.2 C163.3,116.5 156.7,112.8 150.0,109.1 C143.3,105.4 136.7,101.7 130.0,98.0 C123.3,94.4 113.3,88.8 110.0,87.0Z" fill="url(#gL)" stroke="#000" stroke-width="2.8" stroke-linejoin="round"/>
<path d="M384.0,72.3 L480.0,72.3 C483.3,72.3 492.5,72.2 500.0,72.4 C507.5,72.6 518.0,72.8 525.0,73.3 C532.0,73.8 536.2,74.7 541.7,75.7 C547.2,76.7 552.8,78.0 558.3,79.5 C563.8,81.0 569.4,82.7 575.0,84.5 C580.6,86.3 586.4,88.4 591.7,90.3 C597.0,92.2 601.2,93.1 606.7,95.8 C612.2,98.5 619.2,102.9 625.0,106.2 C630.8,109.5 636.2,112.5 641.7,115.8 C647.2,119.1 651.4,122.0 658.3,126.2 C665.2,130.5 676.3,137.0 683.3,141.3 C690.2,145.6 694.4,148.5 700.0,151.9 C705.6,155.3 711.2,158.8 716.7,162.0 C722.2,165.2 727.8,168.1 733.3,170.8 C738.8,173.5 744.4,175.8 750.0,178.0 C755.6,180.2 761.7,182.5 766.7,184.2 C771.7,185.9 775.3,187.0 780.0,188.0 C784.7,189.0 789.7,189.9 795.0,190.3 C800.3,190.7 809.2,190.6 812.0,190.6 L705.0,190.6 C702.5,190.6 695.9,190.7 690.0,190.6 C684.1,190.5 676.4,190.4 669.7,190.0 C663.0,189.6 656.1,189.0 650.0,188.3 C643.9,187.6 638.8,186.8 633.3,185.8 C627.8,184.8 623.1,184.0 616.7,182.5 C610.3,181.0 600.6,178.4 595.0,176.7 C589.4,175.0 588.0,174.3 583.3,172.5 C578.6,170.7 572.2,168.3 566.7,165.8 C561.2,163.3 555.6,160.4 550.0,157.5 C544.4,154.6 538.8,151.4 533.3,148.3 C527.8,145.2 522.2,142.3 516.7,139.2 C511.2,136.1 504.4,132.1 500.0,129.5 C495.6,126.9 494.4,126.3 490.0,123.7 C485.6,121.1 478.9,117.0 473.3,113.7 C467.8,110.4 462.2,107.0 456.7,103.7 C451.1,100.4 445.6,96.8 440.0,93.7 C434.4,90.6 428.9,87.8 423.3,85.3 C417.8,82.8 412.2,80.5 406.7,78.7 C401.1,76.9 395.6,75.5 390.0,74.5 C384.4,73.5 375.8,73.1 373.0,72.8Z" fill="url(#gL)" stroke="#000" stroke-width="2.8" stroke-linejoin="round"/>
<path d="M696.0,72.3 L792.0,72.3 C795.3,72.3 804.5,72.2 812.0,72.4 C819.5,72.6 830.0,72.8 837.0,73.3 C844.0,73.8 848.2,74.7 853.7,75.7 C859.2,76.7 864.8,78.0 870.3,79.5 C875.8,81.0 881.4,82.7 887.0,84.5 C892.6,86.3 898.4,88.4 903.7,90.3 C909.0,92.2 913.2,93.1 918.7,95.8 C924.2,98.5 931.2,102.9 937.0,106.2 C942.8,109.5 948.2,112.5 953.7,115.8 C959.2,119.1 963.4,122.0 970.3,126.2 C977.2,130.5 988.3,137.0 995.3,141.3 C1002.2,145.6 1006.4,148.5 1012.0,151.9 C1017.6,155.3 1025.9,160.3 1028.7,162.0 L1045.0,190.6 L1017.0,190.6 C1014.5,190.6 1007.9,190.7 1002.0,190.6 C996.1,190.5 988.4,190.4 981.7,190.0 C975.0,189.6 968.1,189.0 962.0,188.3 C955.9,187.6 950.8,186.8 945.3,185.8 C939.8,184.8 935.1,184.0 928.7,182.5 C922.3,181.0 912.6,178.4 907.0,176.7 C901.4,175.0 900.0,174.3 895.3,172.5 C890.6,170.7 884.2,168.3 878.7,165.8 C873.2,163.3 867.6,160.4 862.0,157.5 C856.4,154.6 850.8,151.4 845.3,148.3 C839.8,145.2 834.2,142.3 828.7,139.2 C823.2,136.1 816.5,132.1 812.0,129.5 C807.5,126.9 806.5,126.3 802.0,123.7 C797.5,121.1 790.8,117.0 785.3,113.7 C779.8,110.4 774.2,107.0 768.7,103.7 C763.2,100.4 757.6,96.8 752.0,93.7 C746.4,90.6 740.8,87.8 735.3,85.3 C729.8,82.8 724.2,80.5 718.7,78.7 C713.2,76.9 707.6,75.5 702.0,74.5 C696.4,73.5 687.8,73.1 685.0,72.8Z" fill="url(#gL)" stroke="#000" stroke-width="2.8" stroke-linejoin="round"/>
<path d="M117.0,72.3 L83.6,132.3 L117.0,190.6" fill="none" stroke="#000" stroke-width="2.8" stroke-linejoin="round"/>
<line x1="146.6" y1="461.6" x2="596.0" y2="510.0" stroke="#fff" stroke-width="3.05"/>
<line x1="98.3" y1="490.3" x2="596.0" y2="512.5" stroke="#fff" stroke-width="3.05"/>
<line x1="86.4" y1="519.6" x2="596.0" y2="514.5" stroke="#fff" stroke-width="3.05"/>
<line x1="113.4" y1="552.8" x2="596.0" y2="517.0" stroke="#fff" stroke-width="3.05"/>
<line x1="202.0" y1="572.0" x2="596.0" y2="519.0" stroke="#fff" stroke-width="3.05"/>
<line x1="331.3" y1="576.0" x2="596.0" y2="521.0" stroke="#fff" stroke-width="3.05"/>
<line x1="418.3" y1="577.0" x2="596.0" y2="523.5" stroke="#fff" stroke-width="3.05"/>
<line x1="381.2" y1="465.8" x2="596.0" y2="508.0" stroke="#fff" stroke-width="3.05"/>
<line x1="488.4" y1="473.7" x2="596.0" y2="505.5" stroke="#fff" stroke-width="3.05"/>
<path d="M597,504.8 L545,507.5 L538,515 L545,523 L597,525.3Z" fill="#fff"/>
<circle cx="113.4" cy="469.6" r="9.2" fill="#c2c4c7"/>
<circle cx="121.5" cy="496.4" r="9.2" fill="#c9cbce"/>
<circle cx="105.7" cy="555.4" r="9.2" fill="#c7c9cc"/>
<circle cx="147.6" cy="537.6" r="9.2" fill="#c3c5c8"/>
<circle cx="201.0" cy="499.6" r="9.2" fill="#ced0d3"/>
<circle cx="195.3" cy="561.5" r="9.2" fill="#d2d4d7"/>
<circle cx="224.0" cy="533.5" r="9.2" fill="#ccced1"/>
<circle cx="251.7" cy="477.0" r="9.2" fill="#d0d2d5"/>
<circle cx="273.3" cy="558.3" r="9.2" fill="#d6d8db"/>
<circle cx="293.9" cy="511.5" r="9.2" fill="#c9cbce"/>
<circle cx="320.4" cy="555.0" r="9.2" fill="#d9dbde"/>
<circle cx="338.4" cy="473.2" r="9.2" fill="#d7d9dc"/>
<circle cx="345.8" cy="515.7" r="9.2" fill="#d3d5d8"/>
<circle cx="391.5" cy="485.1" r="9.2" fill="#dbdde0"/>
<circle cx="390.0" cy="558.6" r="9.2" fill="#dfe1e4"/>
<circle cx="410.2" cy="525.4" r="9.2" fill="#dddfe2"/>
<circle cx="446.2" cy="478.0" r="9.2" fill="#e0e2e6"/>
<circle cx="448.8" cy="536.0" r="9.2" fill="#e3e5e8"/>
<circle cx="478.2" cy="500.2" r="9.2" fill="#e5e7ea"/>
<circle cx="487.4" cy="551.1" r="9.2" fill="#e7e9ec"/>
<circle cx="495.6" cy="525.5" r="9.2" fill="#e9ebee"/>
<circle cx="522.6" cy="502.7" r="9.2" fill="#ebedf0"/>
<circle cx="538.5" cy="512.8" r="8.5" fill="#f8fafc"/>
<circle cx="533.0" cy="527.2" r="7.0" fill="#f4f6f8"/>
<circle cx="557.0" cy="516.0" r="8.5" fill="#ffffff"/>
<clipPath id="nozclip"><path d="M595.7,507.0 C595.7,502.5 598,500.2 604,499.3 C611.3,498.5 632.0,496.2 648.0,494.6 C664.0,493.0 688.0,490.6 700.0,489.5 C712.0,488.4 711.7,488.7 720.0,487.9 C728.3,487.1 739.3,485.7 750.0,484.5 C760.7,483.3 774.0,481.6 784.0,480.5 C794.0,479.4 801.2,478.9 810.0,478.0 C818.8,477.1 828.3,476.5 837.0,474.8 C845.7,473.1 853.2,470.9 862.0,468.0 C870.8,465.1 879.7,461.3 889.5,457.3 C899.3,453.3 910.9,448.7 921.0,444.0 C931.1,439.3 942.1,433.4 950.0,429.0 C957.9,424.6 962.5,421.9 968.3,417.9 C974.1,413.9 979.9,409.0 985.0,405.0 C990.1,401.0 994.8,397.8 999.0,393.8 C1003.2,389.8 1006.7,385.4 1010.0,381.0 C1013.3,376.6 1016.0,371.8 1018.7,367.5 C1021.4,363.2 1024.8,357.1 1026.0,355.0 L1030,355 L1030,645 L1026.0,641.0 C1021.7,638.8 1008.2,632.1 1000.0,628.0 C991.8,623.9 985.3,620.5 977.0,616.3 C968.7,612.1 959.3,607.5 950.0,603.0 C940.7,598.5 931.1,594.1 921.0,589.5 C910.9,584.9 899.3,580.0 889.5,575.6 C879.7,571.2 870.8,566.3 862.0,563.0 C853.2,559.7 845.7,557.6 837.0,555.9 C828.3,554.2 818.8,553.7 810.0,552.8 C801.2,551.9 794.0,551.5 784.0,550.5 C774.0,549.5 760.7,547.8 750.0,546.5 C739.3,545.2 728.3,543.6 720.0,542.8 C711.7,542.0 712.0,542.7 700.0,541.5 C688.0,540.3 664.0,537.6 648.0,535.8 C632.0,534.0 611.3,531.6 604.0,530.8 C598,530 595.7,527.5 595.7,523 Z"/></clipPath>
<g clip-path="url(#nozclip)"><rect x="594.0" y="498.8" width="3.6" height="32.5" fill="url(#nzTip)"/>
<rect x="597.0" y="498.8" width="3.6" height="32.5" fill="url(#nzTip)"/>
<rect x="600.0" y="498.8" width="3.6" height="32.5" fill="url(#nzTip)"/>
<rect x="603.0" y="498.7" width="3.6" height="32.6" fill="url(#nzTip)"/>
<rect x="606.0" y="498.4" width="3.6" height="33.3" fill="url(#nzTip)"/>
<rect x="609.0" y="498.1" width="3.6" height="33.9" fill="url(#nzTip)"/>
<rect x="609.0" y="498.1" width="3.6" height="33.9" fill="url(#nzBody)" opacity="0.004"/>
<rect x="612.0" y="497.8" width="3.6" height="34.6" fill="url(#nzTip)"/>
<rect x="612.0" y="497.8" width="3.6" height="34.6" fill="url(#nzBody)" opacity="0.027"/>
<rect x="615.0" y="497.4" width="3.6" height="35.3" fill="url(#nzTip)"/>
<rect x="615.0" y="497.4" width="3.6" height="35.3" fill="url(#nzBody)" opacity="0.050"/>
<rect x="618.0" y="497.1" width="3.6" height="36.0" fill="url(#nzTip)"/>
<rect x="618.0" y="497.1" width="3.6" height="36.0" fill="url(#nzBody)" opacity="0.073"/>
<rect x="621.0" y="496.8" width="3.6" height="36.6" fill="url(#nzTip)"/>
<rect x="621.0" y="496.8" width="3.6" height="36.6" fill="url(#nzBody)" opacity="0.096"/>
<rect x="624.0" y="496.5" width="3.6" height="37.3" fill="url(#nzTip)"/>
<rect x="624.0" y="496.5" width="3.6" height="37.3" fill="url(#nzBody)" opacity="0.119"/>
<rect x="627.0" y="496.2" width="3.6" height="37.9" fill="url(#nzTip)"/>
<rect x="627.0" y="496.2" width="3.6" height="37.9" fill="url(#nzBody)" opacity="0.142"/>
<rect x="630.0" y="495.8" width="3.6" height="38.6" fill="url(#nzTip)"/>
<rect x="630.0" y="495.8" width="3.6" height="38.6" fill="url(#nzBody)" opacity="0.165"/>
<rect x="633.0" y="495.5" width="3.6" height="39.3" fill="url(#nzTip)"/>
<rect x="633.0" y="495.5" width="3.6" height="39.3" fill="url(#nzBody)" opacity="0.188"/>
<rect x="636.0" y="495.2" width="3.6" height="39.9" fill="url(#nzTip)"/>
<rect x="636.0" y="495.2" width="3.6" height="39.9" fill="url(#nzBody)" opacity="0.212"/>
<rect x="639.0" y="494.9" width="3.6" height="40.6" fill="url(#nzTip)"/>
<rect x="639.0" y="494.9" width="3.6" height="40.6" fill="url(#nzBody)" opacity="0.235"/>
<rect x="642.0" y="494.6" width="3.6" height="41.2" fill="url(#nzTip)"/>
<rect x="642.0" y="494.6" width="3.6" height="41.2" fill="url(#nzBody)" opacity="0.258"/>
<rect x="645.0" y="494.3" width="3.6" height="41.9" fill="url(#nzTip)"/>
<rect x="645.0" y="494.3" width="3.6" height="41.9" fill="url(#nzBody)" opacity="0.281"/>
<rect x="648.0" y="493.9" width="3.6" height="42.5" fill="url(#nzTip)"/>
<rect x="648.0" y="493.9" width="3.6" height="42.5" fill="url(#nzBody)" opacity="0.304"/>
<rect x="651.0" y="493.6" width="3.6" height="43.2" fill="url(#nzTip)"/>
<rect x="651.0" y="493.6" width="3.6" height="43.2" fill="url(#nzBody)" opacity="0.327"/>
<rect x="654.0" y="493.3" width="3.6" height="43.8" fill="url(#nzTip)"/>
<rect x="654.0" y="493.3" width="3.6" height="43.8" fill="url(#nzBody)" opacity="0.350"/>
<rect x="657.0" y="493.0" width="3.6" height="44.4" fill="url(#nzTip)"/>
<rect x="657.0" y="493.0" width="3.6" height="44.4" fill="url(#nzBody)" opacity="0.373"/>
<rect x="660.0" y="492.7" width="3.6" height="45.1" fill="url(#nzTip)"/>
<rect x="660.0" y="492.7" width="3.6" height="45.1" fill="url(#nzBody)" opacity="0.396"/>
<rect x="663.0" y="492.4" width="3.6" height="45.7" fill="url(#nzTip)"/>
<rect x="663.0" y="492.4" width="3.6" height="45.7" fill="url(#nzBody)" opacity="0.419"/>
<rect x="666.0" y="492.1" width="3.6" height="46.3" fill="url(#nzTip)"/>
<rect x="666.0" y="492.1" width="3.6" height="46.3" fill="url(#nzBody)" opacity="0.442"/>
<rect x="669.0" y="491.8" width="3.6" height="47.0" fill="url(#nzTip)"/>
<rect x="669.0" y="491.8" width="3.6" height="47.0" fill="url(#nzBody)" opacity="0.465"/>
<rect x="672.0" y="491.6" width="3.6" height="47.6" fill="url(#nzTip)"/>
<rect x="672.0" y="491.6" width="3.6" height="47.6" fill="url(#nzBody)" opacity="0.488"/>
<rect x="675.0" y="491.3" width="3.6" height="48.2" fill="url(#nzTip)"/>
<rect x="675.0" y="491.3" width="3.6" height="48.2" fill="url(#nzBody)" opacity="0.512"/>
<rect x="678.0" y="491.0" width="3.6" height="48.9" fill="url(#nzTip)"/>
<rect x="678.0" y="491.0" width="3.6" height="48.9" fill="url(#nzBody)" opacity="0.535"/>
<rect x="681.0" y="490.7" width="3.6" height="49.5" fill="url(#nzTip)"/>
<rect x="681.0" y="490.7" width="3.6" height="49.5" fill="url(#nzBody)" opacity="0.558"/>
<rect x="684.0" y="490.4" width="3.6" height="50.1" fill="url(#nzTip)"/>
<rect x="684.0" y="490.4" width="3.6" height="50.1" fill="url(#nzBody)" opacity="0.581"/>
<rect x="687.0" y="490.1" width="3.6" height="50.7" fill="url(#nzTip)"/>
<rect x="687.0" y="490.1" width="3.6" height="50.7" fill="url(#nzBody)" opacity="0.604"/>
<rect x="690.0" y="489.8" width="3.6" height="51.3" fill="url(#nzTip)"/>
<rect x="690.0" y="489.8" width="3.6" height="51.3" fill="url(#nzBody)" opacity="0.627"/>
<rect x="693.0" y="489.5" width="3.6" height="51.9" fill="url(#nzTip)"/>
<rect x="693.0" y="489.5" width="3.6" height="51.9" fill="url(#nzBody)" opacity="0.650"/>
<rect x="696.0" y="489.2" width="3.6" height="52.5" fill="url(#nzTip)"/>
<rect x="696.0" y="489.2" width="3.6" height="52.5" fill="url(#nzBody)" opacity="0.673"/>
<rect x="699.0" y="489.0" width="3.6" height="53.1" fill="url(#nzTip)"/>
<rect x="699.0" y="489.0" width="3.6" height="53.1" fill="url(#nzBody)" opacity="0.696"/>
<rect x="702.0" y="488.7" width="3.6" height="53.6" fill="url(#nzTip)"/>
<rect x="702.0" y="488.7" width="3.6" height="53.6" fill="url(#nzBody)" opacity="0.719"/>
<rect x="705.0" y="488.4" width="3.6" height="54.1" fill="url(#nzTip)"/>
<rect x="705.0" y="488.4" width="3.6" height="54.1" fill="url(#nzBody)" opacity="0.742"/>
<rect x="708.0" y="488.2" width="3.6" height="54.5" fill="url(#nzTip)"/>
<rect x="708.0" y="488.2" width="3.6" height="54.5" fill="url(#nzBody)" opacity="0.765"/>
<rect x="711.0" y="488.0" width="3.6" height="54.8" fill="url(#nzTip)"/>
<rect x="711.0" y="488.0" width="3.6" height="54.8" fill="url(#nzBody)" opacity="0.788"/>
<rect x="714.0" y="487.8" width="3.6" height="55.1" fill="url(#nzTip)"/>
<rect x="714.0" y="487.8" width="3.6" height="55.1" fill="url(#nzBody)" opacity="0.812"/>
<rect x="717.0" y="487.5" width="3.6" height="55.6" fill="url(#nzTip)"/>
<rect x="717.0" y="487.5" width="3.6" height="55.6" fill="url(#nzBody)" opacity="0.835"/>
<rect x="720.0" y="487.2" width="3.6" height="56.2" fill="url(#nzTip)"/>
<rect x="720.0" y="487.2" width="3.6" height="56.2" fill="url(#nzBody)" opacity="0.858"/>
<rect x="723.0" y="486.9" width="3.6" height="56.9" fill="url(#nzTip)"/>
<rect x="723.0" y="486.9" width="3.6" height="56.9" fill="url(#nzBody)" opacity="0.881"/>
<rect x="726.0" y="486.6" width="3.6" height="57.5" fill="url(#nzTip)"/>
<rect x="726.0" y="486.6" width="3.6" height="57.5" fill="url(#nzBody)" opacity="0.904"/>
<rect x="729.0" y="486.3" width="3.6" height="58.3" fill="url(#nzTip)"/>
<rect x="729.0" y="486.3" width="3.6" height="58.3" fill="url(#nzBody)" opacity="0.927"/>
<rect x="732.0" y="485.9" width="3.6" height="59.0" fill="url(#nzTip)"/>
<rect x="732.0" y="485.9" width="3.6" height="59.0" fill="url(#nzBody)" opacity="0.950"/>
<rect x="735.0" y="485.6" width="3.6" height="59.7" fill="url(#nzTip)"/>
<rect x="735.0" y="485.6" width="3.6" height="59.7" fill="url(#nzBody)" opacity="0.973"/>
<rect x="738.0" y="485.2" width="3.6" height="60.5" fill="url(#nzTip)"/>
<rect x="738.0" y="485.2" width="3.6" height="60.5" fill="url(#nzBody)" opacity="0.996"/>
<rect x="741.0" y="484.9" width="3.6" height="61.2" fill="url(#nzTip)"/>
<rect x="741.0" y="484.9" width="3.6" height="61.2" fill="url(#nzBody)" opacity="1.000"/>
<rect x="744.0" y="484.5" width="3.6" height="61.9" fill="url(#nzTip)"/>
<rect x="744.0" y="484.5" width="3.6" height="61.9" fill="url(#nzBody)" opacity="1.000"/>
<rect x="747.0" y="484.2" width="3.6" height="62.6" fill="url(#nzTip)"/>
<rect x="747.0" y="484.2" width="3.6" height="62.6" fill="url(#nzBody)" opacity="1.000"/>
<rect x="750.0" y="483.8" width="3.6" height="63.4" fill="url(#nzTip)"/>
<rect x="750.0" y="483.8" width="3.6" height="63.4" fill="url(#nzBody)" opacity="1.000"/>
<rect x="753.0" y="483.5" width="3.6" height="64.1" fill="url(#nzTip)"/>
<rect x="753.0" y="483.5" width="3.6" height="64.1" fill="url(#nzBody)" opacity="1.000"/>
<rect x="756.0" y="483.1" width="3.6" height="64.8" fill="url(#nzTip)"/>
<rect x="756.0" y="483.1" width="3.6" height="64.8" fill="url(#nzBody)" opacity="1.000"/>
<rect x="759.0" y="482.8" width="3.6" height="65.5" fill="url(#nzTip)"/>
<rect x="759.0" y="482.8" width="3.6" height="65.5" fill="url(#nzBody)" opacity="1.000"/>
<rect x="762.0" y="482.4" width="3.6" height="66.2" fill="url(#nzTip)"/>
<rect x="762.0" y="482.4" width="3.6" height="66.2" fill="url(#nzBody)" opacity="1.000"/>
<rect x="765.0" y="482.0" width="3.6" height="67.0" fill="url(#nzTip)"/>
<rect x="765.0" y="482.0" width="3.6" height="67.0" fill="url(#nzBody)" opacity="1.000"/>
<rect x="768.0" y="481.7" width="3.6" height="67.7" fill="url(#nzTip)"/>
<rect x="768.0" y="481.7" width="3.6" height="67.7" fill="url(#nzBody)" opacity="1.000"/>
<rect x="771.0" y="481.3" width="3.6" height="68.4" fill="url(#nzTip)"/>
<rect x="771.0" y="481.3" width="3.6" height="68.4" fill="url(#nzBody)" opacity="1.000"/>
<rect x="774.0" y="481.0" width="3.6" height="69.1" fill="url(#nzTip)"/>
<rect x="774.0" y="481.0" width="3.6" height="69.1" fill="url(#nzBody)" opacity="1.000"/>
<rect x="777.0" y="480.6" width="3.6" height="69.8" fill="url(#nzTip)"/>
<rect x="777.0" y="480.6" width="3.6" height="69.8" fill="url(#nzBody)" opacity="1.000"/>
<rect x="780.0" y="480.3" width="3.6" height="70.5" fill="url(#nzTip)"/>
<rect x="780.0" y="480.3" width="3.6" height="70.5" fill="url(#nzBody)" opacity="1.000"/>
<rect x="783.0" y="479.9" width="3.6" height="71.1" fill="url(#nzTip)"/>
<rect x="783.0" y="479.9" width="3.6" height="71.1" fill="url(#nzBody)" opacity="1.000"/>
<rect x="786.0" y="479.6" width="3.6" height="71.7" fill="url(#nzTip)"/>
<rect x="786.0" y="479.6" width="3.6" height="71.7" fill="url(#nzBody)" opacity="1.000"/>
<rect x="789.0" y="479.3" width="3.6" height="72.3" fill="url(#nzTip)"/>
<rect x="789.0" y="479.3" width="3.6" height="72.3" fill="url(#nzBody)" opacity="1.000"/>
<rect x="792.0" y="479.1" width="3.6" height="72.8" fill="url(#nzTip)"/>
<rect x="792.0" y="479.1" width="3.6" height="72.8" fill="url(#nzBody)" opacity="1.000"/>
<rect x="795.0" y="478.8" width="3.6" height="73.3" fill="url(#nzTip)"/>
<rect x="795.0" y="478.8" width="3.6" height="73.3" fill="url(#nzBody)" opacity="1.000"/>
<rect x="798.0" y="478.5" width="3.6" height="73.9" fill="url(#nzTip)"/>
<rect x="798.0" y="478.5" width="3.6" height="73.9" fill="url(#nzBody)" opacity="1.000"/>
<rect x="801.0" y="478.2" width="3.6" height="74.4" fill="url(#nzTip)"/>
<rect x="801.0" y="478.2" width="3.6" height="74.4" fill="url(#nzBody)" opacity="1.000"/>
<rect x="804.0" y="478.0" width="3.6" height="74.9" fill="url(#nzTip)"/>
<rect x="804.0" y="478.0" width="3.6" height="74.9" fill="url(#nzBody)" opacity="1.000"/>
<rect x="807.0" y="477.7" width="3.6" height="75.5" fill="url(#nzTip)"/>
<rect x="807.0" y="477.7" width="3.6" height="75.5" fill="url(#nzBody)" opacity="1.000"/>
<rect x="810.0" y="477.3" width="3.6" height="76.1" fill="url(#nzTip)"/>
<rect x="810.0" y="477.3" width="3.6" height="76.1" fill="url(#nzBody)" opacity="1.000"/>
<rect x="813.0" y="477.0" width="3.6" height="76.7" fill="url(#nzTip)"/>
<rect x="813.0" y="477.0" width="3.6" height="76.7" fill="url(#nzBody)" opacity="1.000"/>
<rect x="816.0" y="476.8" width="3.6" height="77.2" fill="url(#nzTip)"/>
<rect x="816.0" y="476.8" width="3.6" height="77.2" fill="url(#nzBody)" opacity="1.000"/>
<rect x="819.0" y="476.5" width="3.6" height="77.8" fill="url(#nzTip)"/>
<rect x="819.0" y="476.5" width="3.6" height="77.8" fill="url(#nzBody)" opacity="1.000"/>
<rect x="822.0" y="476.2" width="3.6" height="78.4" fill="url(#nzTip)"/>
<rect x="822.0" y="476.2" width="3.6" height="78.4" fill="url(#nzBody)" opacity="1.000"/>
<rect x="825.0" y="475.8" width="3.6" height="79.0" fill="url(#nzTip)"/>
<rect x="825.0" y="475.8" width="3.6" height="79.0" fill="url(#nzBody)" opacity="1.000"/>
<rect x="828.0" y="475.5" width="3.6" height="79.7" fill="url(#nzTip)"/>
<rect x="828.0" y="475.5" width="3.6" height="79.7" fill="url(#nzBody)" opacity="1.000"/>
<rect x="831.0" y="475.1" width="3.6" height="80.6" fill="url(#nzTip)"/>
<rect x="831.0" y="475.1" width="3.6" height="80.6" fill="url(#nzBody)" opacity="1.000"/>
<rect x="834.0" y="474.6" width="3.6" height="81.6" fill="url(#nzTip)"/>
<rect x="834.0" y="474.6" width="3.6" height="81.6" fill="url(#nzBody)" opacity="1.000"/>
<rect x="837.0" y="474.0" width="3.6" height="82.7" fill="url(#nzTip)"/>
<rect x="837.0" y="474.0" width="3.6" height="82.7" fill="url(#nzBody)" opacity="1.000"/>
<rect x="840.0" y="473.4" width="3.6" height="84.0" fill="url(#nzTip)"/>
<rect x="840.0" y="473.4" width="3.6" height="84.0" fill="url(#nzBody)" opacity="1.000"/>
<rect x="843.0" y="472.7" width="3.6" height="85.4" fill="url(#nzTip)"/>
<rect x="843.0" y="472.7" width="3.6" height="85.4" fill="url(#nzBody)" opacity="1.000"/>
<rect x="846.0" y="471.9" width="3.6" height="86.9" fill="url(#nzTip)"/>
<rect x="846.0" y="471.9" width="3.6" height="86.9" fill="url(#nzBody)" opacity="1.000"/>
<rect x="849.0" y="471.1" width="3.6" height="88.6" fill="url(#nzTip)"/>
<rect x="849.0" y="471.1" width="3.6" height="88.6" fill="url(#nzBody)" opacity="1.000"/>
<rect x="852.0" y="470.2" width="3.6" height="90.4" fill="url(#nzTip)"/>
<rect x="852.0" y="470.2" width="3.6" height="90.4" fill="url(#nzBody)" opacity="1.000"/>
<rect x="855.0" y="469.3" width="3.6" height="92.3" fill="url(#nzTip)"/>
<rect x="855.0" y="469.3" width="3.6" height="92.3" fill="url(#nzBody)" opacity="1.000"/>
<rect x="858.0" y="468.3" width="3.6" height="94.3" fill="url(#nzTip)"/>
<rect x="858.0" y="468.3" width="3.6" height="94.3" fill="url(#nzBody)" opacity="1.000"/>
<rect x="861.0" y="467.3" width="3.6" height="96.4" fill="url(#nzTip)"/>
<rect x="861.0" y="467.3" width="3.6" height="96.4" fill="url(#nzBody)" opacity="1.000"/>
<rect x="864.0" y="466.3" width="3.6" height="98.6" fill="url(#nzTip)"/>
<rect x="864.0" y="466.3" width="3.6" height="98.6" fill="url(#nzBody)" opacity="1.000"/>
<rect x="867.0" y="465.2" width="3.6" height="101.0" fill="url(#nzTip)"/>
<rect x="867.0" y="465.2" width="3.6" height="101.0" fill="url(#nzBody)" opacity="1.000"/>
<rect x="870.0" y="464.1" width="3.6" height="103.5" fill="url(#nzTip)"/>
<rect x="870.0" y="464.1" width="3.6" height="103.5" fill="url(#nzBody)" opacity="1.000"/>
<rect x="873.0" y="462.9" width="3.6" height="106.1" fill="url(#nzTip)"/>
<rect x="873.0" y="462.9" width="3.6" height="106.1" fill="url(#nzBody)" opacity="1.000"/>
<rect x="876.0" y="461.7" width="3.6" height="108.7" fill="url(#nzTip)"/>
<rect x="876.0" y="461.7" width="3.6" height="108.7" fill="url(#nzBody)" opacity="1.000"/>
<rect x="879.0" y="460.5" width="3.6" height="111.4" fill="url(#nzTip)"/>
<rect x="879.0" y="460.5" width="3.6" height="111.4" fill="url(#nzBody)" opacity="1.000"/>
<rect x="882.0" y="459.3" width="3.6" height="114.1" fill="url(#nzTip)"/>
<rect x="882.0" y="459.3" width="3.6" height="114.1" fill="url(#nzBody)" opacity="1.000"/>
<rect x="885.0" y="458.0" width="3.6" height="116.7" fill="url(#nzTip)"/>
<rect x="885.0" y="458.0" width="3.6" height="116.7" fill="url(#nzBody)" opacity="1.000"/>
<rect x="888.0" y="456.8" width="3.6" height="119.3" fill="url(#nzTip)"/>
<rect x="888.0" y="456.8" width="3.6" height="119.3" fill="url(#nzBody)" opacity="1.000"/>
<rect x="891.0" y="455.6" width="3.6" height="121.9" fill="url(#nzTip)"/>
<rect x="891.0" y="455.6" width="3.6" height="121.9" fill="url(#nzBody)" opacity="1.000"/>
<rect x="894.0" y="454.4" width="3.6" height="124.4" fill="url(#nzTip)"/>
<rect x="894.0" y="454.4" width="3.6" height="124.4" fill="url(#nzBody)" opacity="1.000"/>
<rect x="897.0" y="453.1" width="3.6" height="126.9" fill="url(#nzTip)"/>
<rect x="897.0" y="453.1" width="3.6" height="126.9" fill="url(#nzBody)" opacity="1.000"/>
<rect x="900.0" y="451.9" width="3.6" height="129.5" fill="url(#nzTip)"/>
<rect x="900.0" y="451.9" width="3.6" height="129.5" fill="url(#nzBody)" opacity="1.000"/>
<rect x="900.0" y="451.9" width="3.6" height="129.5" fill="url(#nzFlare)" opacity="0.019"/>
<rect x="903.0" y="450.7" width="3.6" height="132.0" fill="url(#nzTip)"/>
<rect x="903.0" y="450.7" width="3.6" height="132.0" fill="url(#nzBody)" opacity="1.000"/>
<rect x="903.0" y="450.7" width="3.6" height="132.0" fill="url(#nzFlare)" opacity="0.056"/>
<rect x="906.0" y="449.4" width="3.6" height="134.6" fill="url(#nzTip)"/>
<rect x="906.0" y="449.4" width="3.6" height="134.6" fill="url(#nzBody)" opacity="1.000"/>
<rect x="906.0" y="449.4" width="3.6" height="134.6" fill="url(#nzFlare)" opacity="0.094"/>
<rect x="909.0" y="448.2" width="3.6" height="137.2" fill="url(#nzTip)"/>
<rect x="909.0" y="448.2" width="3.6" height="137.2" fill="url(#nzBody)" opacity="1.000"/>
<rect x="909.0" y="448.2" width="3.6" height="137.2" fill="url(#nzFlare)" opacity="0.131"/>
<rect x="912.0" y="446.9" width="3.6" height="139.8" fill="url(#nzTip)"/>
<rect x="912.0" y="446.9" width="3.6" height="139.8" fill="url(#nzBody)" opacity="1.000"/>
<rect x="912.0" y="446.9" width="3.6" height="139.8" fill="url(#nzFlare)" opacity="0.169"/>
<rect x="915.0" y="445.6" width="3.6" height="142.4" fill="url(#nzTip)"/>
<rect x="915.0" y="445.6" width="3.6" height="142.4" fill="url(#nzBody)" opacity="1.000"/>
<rect x="915.0" y="445.6" width="3.6" height="142.4" fill="url(#nzFlare)" opacity="0.206"/>
<rect x="918.0" y="444.2" width="3.6" height="145.1" fill="url(#nzTip)"/>
<rect x="918.0" y="444.2" width="3.6" height="145.1" fill="url(#nzBody)" opacity="1.000"/>
<rect x="918.0" y="444.2" width="3.6" height="145.1" fill="url(#nzFlare)" opacity="0.244"/>
<rect x="921.0" y="442.8" width="3.6" height="147.9" fill="url(#nzTip)"/>
<rect x="921.0" y="442.8" width="3.6" height="147.9" fill="url(#nzBody)" opacity="1.000"/>
<rect x="921.0" y="442.8" width="3.6" height="147.9" fill="url(#nzFlare)" opacity="0.281"/>
<rect x="924.0" y="441.3" width="3.6" height="150.7" fill="url(#nzTip)"/>
<rect x="924.0" y="441.3" width="3.6" height="150.7" fill="url(#nzBody)" opacity="1.000"/>
<rect x="924.0" y="441.3" width="3.6" height="150.7" fill="url(#nzFlare)" opacity="0.319"/>
<rect x="927.0" y="439.9" width="3.6" height="153.6" fill="url(#nzTip)"/>
<rect x="927.0" y="439.9" width="3.6" height="153.6" fill="url(#nzBody)" opacity="1.000"/>
<rect x="927.0" y="439.9" width="3.6" height="153.6" fill="url(#nzFlare)" opacity="0.356"/>
<rect x="930.0" y="438.4" width="3.6" height="156.5" fill="url(#nzTip)"/>
<rect x="930.0" y="438.4" width="3.6" height="156.5" fill="url(#nzBody)" opacity="1.000"/>
<rect x="930.0" y="438.4" width="3.6" height="156.5" fill="url(#nzFlare)" opacity="0.394"/>
<rect x="933.0" y="436.8" width="3.6" height="159.4" fill="url(#nzTip)"/>
<rect x="933.0" y="436.8" width="3.6" height="159.4" fill="url(#nzBody)" opacity="1.000"/>
<rect x="933.0" y="436.8" width="3.6" height="159.4" fill="url(#nzFlare)" opacity="0.431"/>
<rect x="936.0" y="435.2" width="3.6" height="162.3" fill="url(#nzTip)"/>
<rect x="936.0" y="435.2" width="3.6" height="162.3" fill="url(#nzBody)" opacity="1.000"/>
<rect x="936.0" y="435.2" width="3.6" height="162.3" fill="url(#nzFlare)" opacity="0.469"/>
<rect x="939.0" y="433.7" width="3.6" height="165.3" fill="url(#nzTip)"/>
<rect x="939.0" y="433.7" width="3.6" height="165.3" fill="url(#nzBody)" opacity="1.000"/>
<rect x="939.0" y="433.7" width="3.6" height="165.3" fill="url(#nzFlare)" opacity="0.506"/>
<rect x="942.0" y="432.0" width="3.6" height="168.4" fill="url(#nzTip)"/>
<rect x="942.0" y="432.0" width="3.6" height="168.4" fill="url(#nzBody)" opacity="1.000"/>
<rect x="942.0" y="432.0" width="3.6" height="168.4" fill="url(#nzFlare)" opacity="0.544"/>
<rect x="945.0" y="430.4" width="3.6" height="171.4" fill="url(#nzTip)"/>
<rect x="945.0" y="430.4" width="3.6" height="171.4" fill="url(#nzBody)" opacity="1.000"/>
<rect x="945.0" y="430.4" width="3.6" height="171.4" fill="url(#nzFlare)" opacity="0.581"/>
<rect x="948.0" y="428.8" width="3.6" height="174.5" fill="url(#nzTip)"/>
<rect x="948.0" y="428.8" width="3.6" height="174.5" fill="url(#nzBody)" opacity="1.000"/>
<rect x="948.0" y="428.8" width="3.6" height="174.5" fill="url(#nzFlare)" opacity="0.619"/>
<rect x="951.0" y="427.1" width="3.6" height="177.6" fill="url(#nzTip)"/>
<rect x="951.0" y="427.1" width="3.6" height="177.6" fill="url(#nzBody)" opacity="1.000"/>
<rect x="951.0" y="427.1" width="3.6" height="177.6" fill="url(#nzFlare)" opacity="0.656"/>
<rect x="954.0" y="425.4" width="3.6" height="180.7" fill="url(#nzTip)"/>
<rect x="954.0" y="425.4" width="3.6" height="180.7" fill="url(#nzBody)" opacity="1.000"/>
<rect x="954.0" y="425.4" width="3.6" height="180.7" fill="url(#nzFlare)" opacity="0.694"/>
<rect x="957.0" y="423.7" width="3.6" height="183.9" fill="url(#nzTip)"/>
<rect x="957.0" y="423.7" width="3.6" height="183.9" fill="url(#nzBody)" opacity="1.000"/>
<rect x="957.0" y="423.7" width="3.6" height="183.9" fill="url(#nzFlare)" opacity="0.731"/>
<rect x="960.0" y="421.8" width="3.6" height="187.2" fill="url(#nzTip)"/>
<rect x="960.0" y="421.8" width="3.6" height="187.2" fill="url(#nzBody)" opacity="1.000"/>
<rect x="960.0" y="421.8" width="3.6" height="187.2" fill="url(#nzFlare)" opacity="0.769"/>
<rect x="963.0" y="419.9" width="3.6" height="190.6" fill="url(#nzTip)"/>
<rect x="963.0" y="419.9" width="3.6" height="190.6" fill="url(#nzBody)" opacity="1.000"/>
<rect x="963.0" y="419.9" width="3.6" height="190.6" fill="url(#nzFlare)" opacity="0.806"/>
<rect x="966.0" y="417.9" width="3.6" height="194.1" fill="url(#nzTip)"/>
<rect x="966.0" y="417.9" width="3.6" height="194.1" fill="url(#nzBody)" opacity="1.000"/>
<rect x="966.0" y="417.9" width="3.6" height="194.1" fill="url(#nzFlare)" opacity="0.844"/>
<rect x="969.0" y="415.8" width="3.6" height="197.7" fill="url(#nzTip)"/>
<rect x="969.0" y="415.8" width="3.6" height="197.7" fill="url(#nzBody)" opacity="1.000"/>
<rect x="969.0" y="415.8" width="3.6" height="197.7" fill="url(#nzFlare)" opacity="0.881"/>
<rect x="972.0" y="413.6" width="3.6" height="201.4" fill="url(#nzTip)"/>
<rect x="972.0" y="413.6" width="3.6" height="201.4" fill="url(#nzBody)" opacity="1.000"/>
<rect x="972.0" y="413.6" width="3.6" height="201.4" fill="url(#nzFlare)" opacity="0.919"/>
<rect x="975.0" y="411.3" width="3.6" height="205.3" fill="url(#nzTip)"/>
<rect x="975.0" y="411.3" width="3.6" height="205.3" fill="url(#nzBody)" opacity="1.000"/>
<rect x="975.0" y="411.3" width="3.6" height="205.3" fill="url(#nzFlare)" opacity="0.956"/>
<rect x="978.0" y="408.9" width="3.6" height="209.2" fill="url(#nzTip)"/>
<rect x="978.0" y="408.9" width="3.6" height="209.2" fill="url(#nzBody)" opacity="1.000"/>
<rect x="978.0" y="408.9" width="3.6" height="209.2" fill="url(#nzFlare)" opacity="0.994"/>
<rect x="981.0" y="406.5" width="3.6" height="213.1" fill="url(#nzTip)"/>
<rect x="981.0" y="406.5" width="3.6" height="213.1" fill="url(#nzBody)" opacity="1.000"/>
<rect x="981.0" y="406.5" width="3.6" height="213.1" fill="url(#nzFlare)" opacity="1.000"/>
<rect x="984.0" y="404.1" width="3.6" height="217.0" fill="url(#nzTip)"/>
<rect x="984.0" y="404.1" width="3.6" height="217.0" fill="url(#nzBody)" opacity="1.000"/>
<rect x="984.0" y="404.1" width="3.6" height="217.0" fill="url(#nzFlare)" opacity="1.000"/>
<rect x="987.0" y="401.8" width="3.6" height="220.8" fill="url(#nzTip)"/>
<rect x="987.0" y="401.8" width="3.6" height="220.8" fill="url(#nzBody)" opacity="1.000"/>
<rect x="987.0" y="401.8" width="3.6" height="220.8" fill="url(#nzFlare)" opacity="1.000"/>
<rect x="990.0" y="399.5" width="3.6" height="224.6" fill="url(#nzTip)"/>
<rect x="990.0" y="399.5" width="3.6" height="224.6" fill="url(#nzBody)" opacity="1.000"/>
<rect x="990.0" y="399.5" width="3.6" height="224.6" fill="url(#nzFlare)" opacity="1.000"/>
<rect x="993.0" y="397.2" width="3.6" height="228.5" fill="url(#nzTip)"/>
<rect x="993.0" y="397.2" width="3.6" height="228.5" fill="url(#nzBody)" opacity="1.000"/>
<rect x="993.0" y="397.2" width="3.6" height="228.5" fill="url(#nzFlare)" opacity="1.000"/>
<rect x="996.0" y="394.7" width="3.6" height="232.6" fill="url(#nzTip)"/>
<rect x="996.0" y="394.7" width="3.6" height="232.6" fill="url(#nzBody)" opacity="1.000"/>
<rect x="996.0" y="394.7" width="3.6" height="232.6" fill="url(#nzFlare)" opacity="1.000"/>
<rect x="999.0" y="391.8" width="3.6" height="236.9" fill="url(#nzTip)"/>
<rect x="999.0" y="391.8" width="3.6" height="236.9" fill="url(#nzBody)" opacity="1.000"/>
<rect x="999.0" y="391.8" width="3.6" height="236.9" fill="url(#nzFlare)" opacity="1.000"/>
<rect x="1002.0" y="388.6" width="3.6" height="241.7" fill="url(#nzTip)"/>
<rect x="1002.0" y="388.6" width="3.6" height="241.7" fill="url(#nzBody)" opacity="1.000"/>
<rect x="1002.0" y="388.6" width="3.6" height="241.7" fill="url(#nzFlare)" opacity="1.000"/>
<rect x="1005.0" y="385.0" width="3.6" height="246.7" fill="url(#nzTip)"/>
<rect x="1005.0" y="385.0" width="3.6" height="246.7" fill="url(#nzBody)" opacity="1.000"/>
<rect x="1005.0" y="385.0" width="3.6" height="246.7" fill="url(#nzFlare)" opacity="1.000"/>
<rect x="1008.0" y="381.2" width="3.6" height="252.1" fill="url(#nzTip)"/>
<rect x="1008.0" y="381.2" width="3.6" height="252.1" fill="url(#nzBody)" opacity="1.000"/>
<rect x="1008.0" y="381.2" width="3.6" height="252.1" fill="url(#nzFlare)" opacity="1.000"/>
<rect x="1011.0" y="377.0" width="3.6" height="257.8" fill="url(#nzTip)"/>
<rect x="1011.0" y="377.0" width="3.6" height="257.8" fill="url(#nzBody)" opacity="1.000"/>
<rect x="1011.0" y="377.0" width="3.6" height="257.8" fill="url(#nzFlare)" opacity="1.000"/>
<rect x="1014.0" y="372.2" width="3.6" height="264.0" fill="url(#nzTip)"/>
<rect x="1014.0" y="372.2" width="3.6" height="264.0" fill="url(#nzBody)" opacity="1.000"/>
<rect x="1014.0" y="372.2" width="3.6" height="264.0" fill="url(#nzFlare)" opacity="1.000"/>
<rect x="1017.0" y="367.3" width="3.6" height="270.4" fill="url(#nzTip)"/>
<rect x="1017.0" y="367.3" width="3.6" height="270.4" fill="url(#nzBody)" opacity="1.000"/>
<rect x="1017.0" y="367.3" width="3.6" height="270.4" fill="url(#nzFlare)" opacity="1.000"/>
<rect x="1020.0" y="362.3" width="3.6" height="276.9" fill="url(#nzTip)"/>
<rect x="1020.0" y="362.3" width="3.6" height="276.9" fill="url(#nzBody)" opacity="1.000"/>
<rect x="1020.0" y="362.3" width="3.6" height="276.9" fill="url(#nzFlare)" opacity="1.000"/>
<rect x="1023.0" y="357.1" width="3.6" height="283.6" fill="url(#nzTip)"/>
<rect x="1023.0" y="357.1" width="3.6" height="283.6" fill="url(#nzBody)" opacity="1.000"/>
<rect x="1023.0" y="357.1" width="3.6" height="283.6" fill="url(#nzFlare)" opacity="1.000"/>
<path d="M810.0,478.0 C814.5,477.5 828.3,476.5 837.0,474.8 C845.7,473.1 853.2,470.9 862.0,468.0 C870.8,465.1 879.7,461.3 889.5,457.3 C899.3,453.3 910.9,448.7 921.0,444.0 C931.1,439.3 942.1,433.4 950.0,429.0 C957.9,424.6 962.5,421.9 968.3,417.9 C974.1,413.9 979.9,409.0 985.0,405.0 C990.1,401.0 994.8,397.8 999.0,393.8 C1003.2,389.8 1006.7,385.4 1010.0,381.0 C1013.3,376.6 1016.0,371.8 1018.7,367.5 C1021.4,363.2 1024.8,357.1 1026.0,355.0" fill="none" stroke="#707070" stroke-width="5" opacity="0.55" filter="url(#blurE)"/></g>
<rect x="4.6" y="4.6" width="1.5" height="614" fill="#dadcdd"/>
<rect x="0" y="317" width="1024" height="5.8" fill="#000"/>
<path d="M0,0H1024V623H0Z M4.8,4.7V618H1019.2V4.7Z" fill="#000" fill-rule="evenodd"/>
</svg>
</body></html>
